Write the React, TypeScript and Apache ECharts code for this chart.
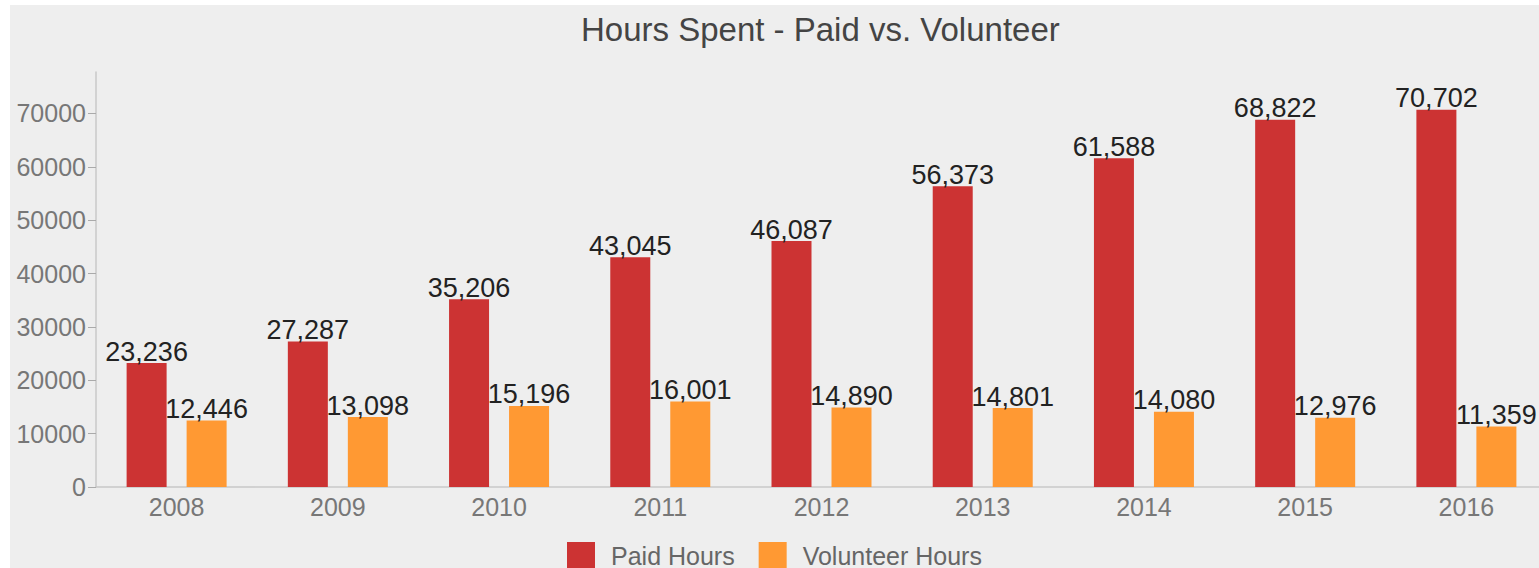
import React, { useEffect, useRef } from "react";
import * as echarts from "echarts";

const years = ["2008", "2009", "2010", "2011", "2012", "2013", "2014", "2015", "2016"];
const paidHours = [23236, 27287, 35206, 43045, 46087, 56373, 61588, 68822, 70702];
const volunteerHours = [12446, 13098, 15196, 16001, 14890, 14801, 14080, 12976, 11359];
const seriesNames = ["Paid Hours", "Volunteer Hours"];
const titleText = "Hours Spent - Paid vs. Volunteer";

const FONT = "'Liberation Sans', Arial, Helvetica, sans-serif";

export default function App() {
  const ref = useRef<HTMLDivElement>(null);
  useEffect(() => {
    document.documentElement.style.overflow = "hidden";
    document.body.style.margin = "0";
    document.body.style.overflow = "hidden";
    if (!ref.current) return;
    const chart = echarts.init(ref.current, null, { renderer: "svg" });
    const fmt = (p: any) => Number(p.value).toLocaleString("en-US");
    const maxVal = Math.max(...paidHours, ...volunteerHours) * 1.1;
    chart.setOption({
      animation: false,
      backgroundColor: "#eeeeee",
      textStyle: { fontFamily: FONT },
      title: {
        text: titleText,
        left: 571,
        top: 8,
        padding: 0,
        textStyle: { fontFamily: FONT, fontSize: 33, fontWeight: "normal", color: "#444444" },
      },
      legend: {
        data: seriesNames,
        left: 557,
        top: 537,
        padding: 0,
        icon: "rect",
        itemWidth: 28,
        itemHeight: 28,
        itemGap: 24,
        textStyle: { fontFamily: FONT, fontSize: 25, color: "#666666", padding: [0, 0, 0, 11] },
      },
      grid: { left: 86, right: 0, top: 67, bottom: 81, containLabel: false },
      xAxis: {
        type: "category",
        data: years,
        axisLine: { lineStyle: { color: "#c8c8c8", width: 1.5 } },
        axisTick: { alignWithLabel: true, length: 5, lineStyle: { color: "#aaaaaa" } },
        axisLabel: { fontFamily: FONT, fontSize: 25, color: "#777777", margin: 7 },
      },
      yAxis: {
        type: "value",
        min: 0,
        max: maxVal,
        interval: 10000,
        splitLine: { show: false },
        axisLine: { show: true, lineStyle: { color: "#c8c8c8", width: 1.5 } },
        axisTick: { show: true, length: 8, lineStyle: { color: "#aaaaaa" } },
        axisLabel: {
          fontFamily: FONT,
          fontSize: 25,
          color: "#777777",
          margin: 10,
          showMaxLabel: false,
          formatter: (v: number) => String(v),
        },
      },
      series: [
        {
          name: seriesNames[0],
          type: "bar",
          data: paidHours,
          barWidth: 40,
          barGap: "50%",
          itemStyle: { color: "#cc3333" },
          label: {
            show: true,
            position: "top",
            distance: -2,
            formatter: fmt,
            fontFamily: FONT,
            fontSize: 27,
            color: "#222222",
          },
        },
        {
          name: seriesNames[1],
          type: "bar",
          data: volunteerHours,
          barWidth: 40,
          itemStyle: { color: "#ff9933" },
          label: {
            show: true,
            position: "top",
            distance: -2,
            formatter: fmt,
            fontFamily: FONT,
            fontSize: 27,
            color: "#222222",
          },
        },
      ],
    });
    return () => chart.dispose();
  }, []);
  return (
    <div
      ref={ref}
      style={{ position: "absolute", left: 10, top: 5, width: 1537, height: 563 }}
    />
  );
}
